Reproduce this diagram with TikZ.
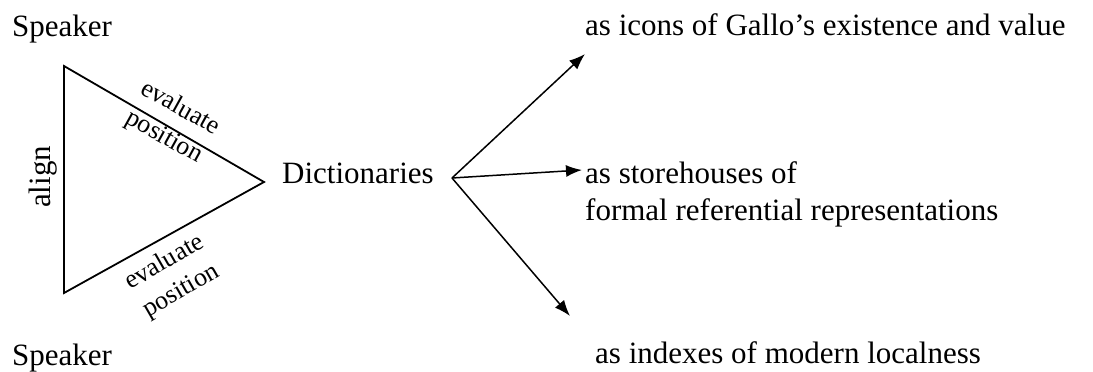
\documentclass[tikz,border=0pt]{standalone}
\usepackage{fontspec}
\setmainfont{Liberation Serif}
\usetikzlibrary{arrows.meta}
\tikzset{
  lbl/.style={inner sep=0pt, font=\fontsize{31}{37}\selectfont},
  edgelbl/.style={inner sep=0pt, align=center, font=\fontsize{26}{33}\selectfont},
  tri/.style={line width=1.8pt, line join=miter},
  arr/.style={line width=1.5pt, -{Latex[length=16pt,width=12pt]}}
}
\begin{document}
\begin{tikzpicture}[x=1pt,y=-1pt]
\useasboundingbox (0,0) rectangle (1093,372);
% Speakers
\node[lbl, anchor=base west] (spk1) at (12,36) {Speaker};
\node[lbl, anchor=base west] (spk2) at (12,365) {Speaker};
% triangle vertices
\coordinate (tA) at (64,66);
\coordinate (tB) at (64,293);
\coordinate (tC) at (264,182);
\draw[tri] (tA) -- (tC) -- (tB) -- cycle;
% edge labels
\node[lbl, rotate=90] (align) at (43,177) {align};
\node[edgelbl, rotate=-29] (evpo1) at (172,123) {evaluate\\position};
\node[edgelbl, rotate=30] (evpo2) at (173,277) {evaluate\\position};
% Dictionaries
\node[lbl, anchor=base west] (dict) at (282,183) {Dictionaries};
\coordinate (o) at (452,178);
% targets
\node[lbl, anchor=base west] (t1) at (585,35) {as icons of Gallo’s existence and value};
\node[lbl, anchor=base west, align=left] (t2) at (585,220) {as storehouses of\\formal referential representations};
\node[lbl, anchor=base west] (t3) at (595,363) {as indexes of modern localness};
\coordinate (e1) at (585,54);
\coordinate (e2) at (582,170);
\coordinate (e3) at (570,316);
\draw[arr] (o) -- (e1);
\draw[arr] (o) -- (e2);
\draw[arr] (o) -- (e3);
\end{tikzpicture}
\end{document}
